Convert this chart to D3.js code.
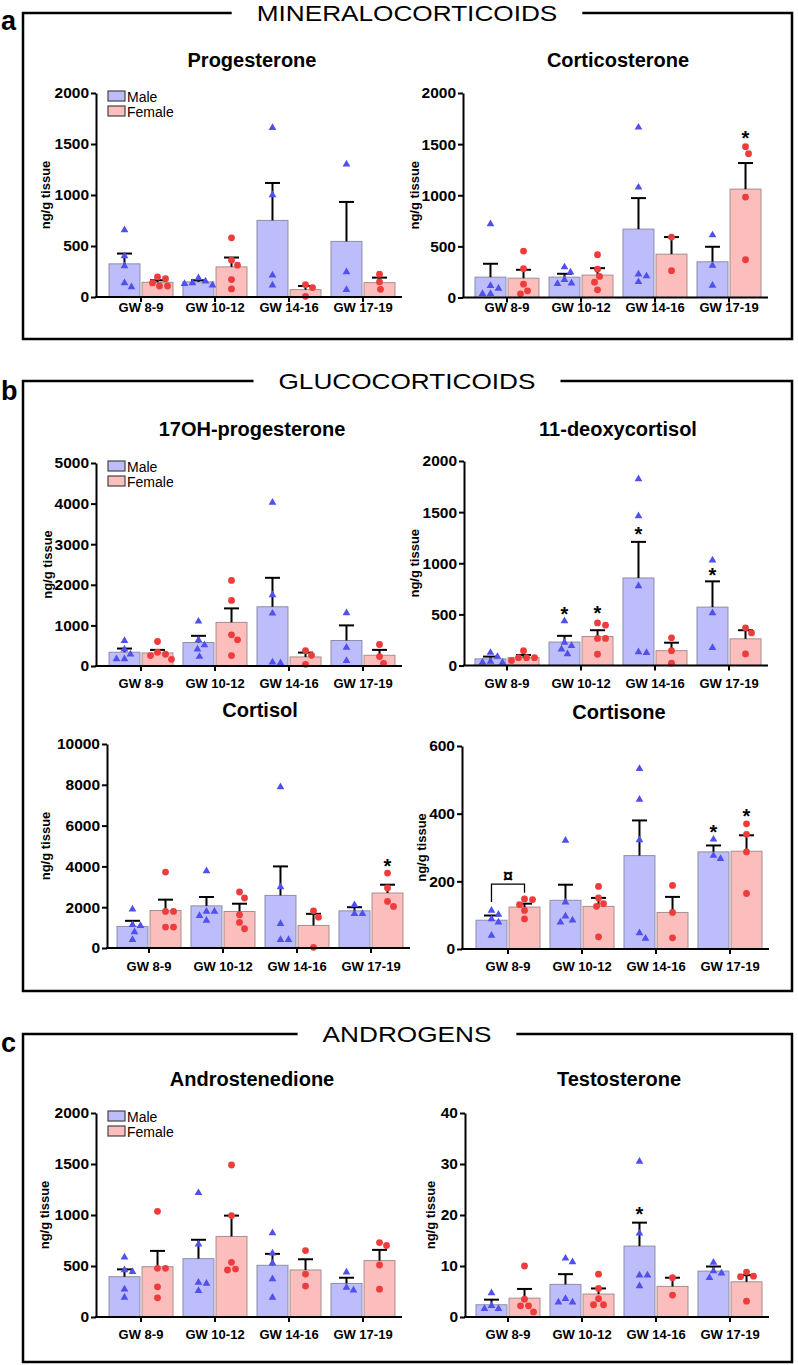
<!DOCTYPE html>
<html><head><meta charset="utf-8">
<script src="https://cdn.jsdelivr.net/npm/d3@7"></script>
<style>body{margin:0;background:#fff} svg{display:block}</style>
</head><body><svg id="chart" width="798" height="1365"></svg>
<script>
// ---------------- DATA ----------------
const groups = ["GW 8-9", "GW 10-12", "GW 14-16", "GW 17-19"];
const sexes = ["Male", "Female"];
const sectionTitles = ["MINERALOCORTICOIDS", "GLUCOCORTICOIDS", "ANDROGENS"];
const sectionLetters = ["a", "b", "c"];
const panelTitles = ["Progesterone", "Corticosterone", "17OH-progesterone", "11-deoxycortisol",
                     "Cortisol", "Cortisone", "Androstenedione", "Testosterone"];
const yLabelText = "ng/g tissue";

const ticks2000 = [0, 500, 1000, 1500, 2000];
const ticks5000 = [0, 1000, 2000, 3000, 4000, 5000];
const ticks10000 = [0, 2000, 4000, 6000, 8000, 10000];
const ticks600 = [0, 200, 400, 600];
const ticks40 = [0, 10, 20, 30, 40];

// Progesterone
const progMaleMean = [325, 148, 751, 545];
const progMaleSem = [101, 16, 367, 387];
const progFemaleMean = [144, 295, 72, 141];
const progFemaleSem = [20, 92, 36, 49];
const progMalePts = [[656, 403, 305, 138, 98], [187, 138, 115, 131, 154], [1660, 1000, 213, 115], [1302, 246, 72]];
const progFemalePts = [[197, 138, 108, 108, 180], [580, 312, 361, 171, 79], [7, 121, 92], [75, 223, 148]];

// Corticosterone
const corticoMaleMean = [199, 199, 669, 349];
const corticoMaleSem = [131, 33, 303, 147];
const corticoFemaleMean = [189, 219, 424, 1060];
const corticoFemaleSem = [82, 68, 167, 255];
const corticoMalePts = [[718, 88, 36, 36, 114], [297, 173, 248, 134, 140], [1664, 1077, 228, 209, 153], [610, 313, 117]];
const corticoFemalePts = [[454, 281, 130, 36, 65], [418, 277, 206, 150, 75], [591, 262], [1406, 1475, 982, 369]];
const corticoStars = [[3, 1, 1598]];

// 17OH-progesterone
const ohpMaleMean = [339, 578, 1459, 628];
const ohpMaleSem = [91, 165, 713, 372];
const ohpFemaleMean = [322, 1074, 223, 264];
const ohpFemaleSem = [75, 345, 107, 133];
const ohpMalePts = [[620, 289, 173, 413, 173], [1099, 640, 413, 231, 520], [4027, 1747, 1296, 90, 74], [1305, 454, 132]];
const ohpFemalePts = [[603, 339, 289, 256, 165], [2108, 1616, 768, 644, 256], [380, 41, 264], [529, 231, 66]];

// 11-deoxycortisol
const deoxyMaleMean = [65, 229, 856, 571];
const deoxyMaleSem = [22, 61, 353, 252];
const deoxyFemaleMean = [77, 284, 145, 261];
const deoxyFemaleSem = [26, 61, 78, 84];
const deoxyMalePts = [[126, 39, 29, 32, 87], [435, 194, 226, 158, 113], [1823, 1463, 777, 125, 132], [1029, 513, 174]];
const deoxyFemalePts = [[145, 77, 48, 77, 77], [394, 416, 265, 265, 110], [271, 145, 23], [368, 319, 113]];
const deoxyStars = [[1, 0, 539], [1, 1, 549], [2, 0, 1324], [3, 0, 924]];

// Cortisol
const cortisolMaleMean = [1057, 2065, 2578, 1821];
const cortisolMaleSem = [276, 435, 1422, 179];
const cortisolFemaleMean = [1837, 1789, 1106, 2695];
const cortisolFemaleSem = [533, 382, 569, 407];
const cortisolMalePts = [[1902, 1138, 1089, 780, 407], [3773, 1790, 1350, 1580, 1790], [7889, 2990, 1187, 407, 407], [2114, 1675, 1675]];
const cortisolFemalePts = [[3724, 1795, 1795, 1024, 1024], [2744, 2450, 1626, 1252, 943], [1821, 1512, 33], [3675, 2940, 2038, 2283]];
const cortisolStars = [[3, 1, 4230]];

// Cortisone
const cortisoneMaleMean = [85, 144, 276, 287];
const cortisoneMaleSem = [14, 46, 104, 19];
const cortisoneFemaleMean = [124, 126, 108, 289];
const cortisoneFemaleSem = [10, 25, 46, 47];
const cortisoneMalePts = [[114, 89, 102, 79, 40], [321, 138, 97, 79, 85], [533, 442, 322, 31, 47], [324, 267, 276]];
const cortisoneFemalePts = [[146, 148, 131, 114, 89], [185, 151, 134, 126, 36], [188, 108, 33], [370, 339, 287, 164]];
const cortisoneStars = [[3, 0, 357], [3, 1, 406]];
// bracket: group, top value, left leg end, right leg end, symbol value, symbol
const cortisoneBracket = [0, 192, 139, 166, 216, "¤"];

// Androstenedione
const androMaleMean = [395, 572, 507, 329];
const androMaleSem = [72, 185, 112, 56];
const androFemaleMean = [493, 790, 461, 553];
const androFemaleSem = [155, 204, 105, 105];
const androMalePts = [[586, 461, 444, 273, 191], [1217, 714, 339, 329, 257], [823, 625, 526, 372, 191], [438, 263, 290]];
const androFemalePts = [[1036, 477, 477, 296, 188], [1490, 994, 536, 461, 470], [651, 421, 303], [701, 730, 510, 273]];

// Testosterone
const testoMaleMean = [2.4, 6.4, 13.9, 9.0];
const testoMaleSem = [1.0, 2.0, 4.6, 0.9];
const testoFemaleMean = [3.7, 4.5, 6.0, 6.9];
const testoFemaleSem = [1.8, 1.1, 1.7, 1.3];
const testoMalePts = [[4.7, 2.2, 1.6, 1.6], [11.5, 10.8, 3.6, 2.9, 2.9], [30.5, 16.4, 8.2, 8.2, 6.1], [10.7, 9.0, 8.6, 7.7]];
const testoFemalePts = [[10, 3.5, 2.2, 2.2, 1.0], [8.4, 5.6, 3.6, 2.4, 2.4], [7.7, 4.3], [8.0, 7.9, 8.8, 3.1]];
const testoStars = [[2, 0, 21.0]];

// ---------------- TABLE FOR DRAWING ----------------
const panelData = [
  {ticks: ticks2000, mean: [progMaleMean, progFemaleMean], sem: [progMaleSem, progFemaleSem], pts: [progMalePts, progFemalePts], stars: []},
  {ticks: ticks2000, mean: [corticoMaleMean, corticoFemaleMean], sem: [corticoMaleSem, corticoFemaleSem], pts: [corticoMalePts, corticoFemalePts], stars: corticoStars},
  {ticks: ticks5000, mean: [ohpMaleMean, ohpFemaleMean], sem: [ohpMaleSem, ohpFemaleSem], pts: [ohpMalePts, ohpFemalePts], stars: []},
  {ticks: ticks2000, mean: [deoxyMaleMean, deoxyFemaleMean], sem: [deoxyMaleSem, deoxyFemaleSem], pts: [deoxyMalePts, deoxyFemalePts], stars: deoxyStars},
  {ticks: ticks10000, mean: [cortisolMaleMean, cortisolFemaleMean], sem: [cortisolMaleSem, cortisolFemaleSem], pts: [cortisolMalePts, cortisolFemalePts], stars: cortisolStars},
  {ticks: ticks600, mean: [cortisoneMaleMean, cortisoneFemaleMean], sem: [cortisoneMaleSem, cortisoneFemaleSem], pts: [cortisoneMalePts, cortisoneFemalePts], stars: cortisoneStars, bracket: cortisoneBracket},
  {ticks: ticks2000, mean: [androMaleMean, androFemaleMean], sem: [androMaleSem, androFemaleSem], pts: [androMalePts, androFemalePts], stars: []},
  {ticks: ticks40, mean: [testoMaleMean, testoFemaleMean], sem: [testoMaleSem, testoFemaleSem], pts: [testoMalePts, testoFemalePts], stars: testoStars}
];

// ---------------- LAYOUT ----------------
const layout = [
  {axisX: 96,  bandX: 96,  yTop: 93,   yBot: 297,   xlab: 312,  tbase: 67,   ylab: 45,  legend: true},
  {axisX: 463, bandX: 462, yTop: 93,   yBot: 297.5, xlab: 312,  tbase: 67,   ylab: 414},
  {axisX: 96,  bandX: 96,  yTop: 463,  yBot: 666,   xlab: 688,  tbase: 436,  ylab: 47,  legend: true},
  {axisX: 464, bandX: 462, yTop: 461,  yBot: 665.5, xlab: 688,  tbase: 436,  ylab: 414},
  {axisX: 107, bandX: 104, yTop: 744,  yBot: 948,   xlab: 971,  tbase: 717,  ylab: 45},
  {axisX: 462, bandX: 463, yTop: 746,  yBot: 949,   xlab: 971,  tbase: 719,  ylab: 421},
  {axisX: 96,  bandX: 96,  yTop: 1113, yBot: 1317,  xlab: 1339, tbase: 1086, ylab: 44,  legend: true},
  {axisX: 465, bandX: 463, yTop: 1113, yBot: 1317,  xlab: 1339, tbase: 1086, ylab: 430}
];
const sectionLayout = [
  {top: 13, bottom: 339, letterBase: 30},
  {top: 381, bottom: 991, letterBase: 400},
  {top: 1034, bottom: 1362, letterBase: 1052}
];
const FONT = "'Liberation Sans', Arial, Helvetica, sans-serif";
const barFill = ["#bdbdfb", "#fcbdbd"];
const barStroke = ["#8e8ea6", "#a88e8e"];
const ptColor = ["#5050ee", "#ee3c3c"];

const svg = d3.select("#chart").attr("font-family", FONT);

// ---------------- SECTIONS ----------------
sectionLayout.forEach((s, i) => {
  const t = svg.append("text")
    .attr("x", 407).attr("y", s.top + 8)
    .attr("text-anchor", "middle")
    .attr("font-size", 22)
    .attr("fill", "#000")
    .text(sectionTitles[i]);
  const w0 = t.node().getComputedTextLength();
  const w = w0 * 1.19;
  t.attr("textLength", w).attr("lengthAdjust", "spacingAndGlyphs");
  const gl = 407 - w / 2 - 25, gr = 407 + w / 2 + 25;
  svg.append("path")
    .attr("d", `M${gl},${s.top}H23V${s.bottom}H792V${s.top}H${gr}`)
    .attr("fill", "none").attr("stroke", "#000").attr("stroke-width", 2.5);
  svg.append("text")
    .attr("x", 1).attr("y", s.letterBase)
    .attr("font-size", 27).attr("font-weight", "bold")
    .text(sectionLetters[i]);
});

// ---------------- SWARM ----------------
function swarm(vals, cx, y, minD) {
  const pts = vals.map(v => ({v, y: y(v)})).sort((a, b) => a.y - b.y);
  const placed = [];
  pts.forEach(p => {
    for (let k = 0; k < 80; k++) {
      const off = k === 0 ? 0 : (k % 2 ? 1 : -1) * Math.ceil(k / 2);
      const px = cx + off;
      if (placed.every(q => (q.x - px) ** 2 + (q.y - p.y) ** 2 >= minD * minD)) {
        p.x = px; placed.push(p); break;
      }
    }
  });
  return placed;
}

// ---------------- PANELS ----------------
panelData.forEach((p, pi) => {
  const L = layout[pi];
  const g = svg.append("g");
  const y = d3.scaleLinear().domain([0, d3.max(p.ticks)]).range([L.yBot, L.yTop]);
  const x = d3.scaleBand().domain(groups).range([L.bandX + 8, L.bandX + 304])
    .paddingInner(0.135).paddingOuter(0.0675);
  const xs = d3.scaleBand().domain(sexes).range([0, x.bandwidth()]).paddingInner(0.0625);
  const bw = xs.bandwidth();
  const cx = (gi, si) => x(groups[gi]) + xs(sexes[si]) + bw / 2;

  // bars
  sexes.forEach((s, si) => {
    g.append("g").selectAll("rect").data(p.mean[si]).join("rect")
      .attr("x", (d, i) => x(groups[i]) + xs(s))
      .attr("y", d => y(d))
      .attr("width", bw)
      .attr("height", d => y(0) - y(d))
      .attr("fill", barFill[si])
      .attr("stroke", barStroke[si]).attr("stroke-width", 1);
  });

  // error bars (upper SEM)
  sexes.forEach((s, si) => {
    const eg = g.append("g").attr("stroke", "#000").attr("stroke-width", 2);
    p.mean[si].forEach((m, i) => {
      const c = cx(i, si);
      eg.append("line").attr("x1", c).attr("x2", c).attr("y1", y(m)).attr("y2", y(m + p.sem[si][i]));
      eg.append("line").attr("x1", c - 7.5).attr("x2", c + 7.5)
        .attr("y1", y(m + p.sem[si][i])).attr("y2", y(m + p.sem[si][i]));
    });
  });

  // points
  sexes.forEach((s, si) => {
    p.pts[si].forEach((vals, i) => {
      const sw = swarm(vals, cx(i, si), y, 7.5);
      if (si === 0) {
        g.append("g").selectAll("path").data(sw).join("path")
          .attr("d", d3.symbol(d3.symbolTriangle, 26))
          .attr("transform", d => `translate(${d.x},${d.y})`)
          .attr("fill", ptColor[0]);
      } else {
        g.append("g").selectAll("circle").data(sw).join("circle")
          .attr("cx", d => d.x).attr("cy", d => d.y).attr("r", 3.4)
          .attr("fill", ptColor[1]);
      }
    });
  });

  // stars
  g.append("g").selectAll("text").data(p.stars).join("text")
    .attr("x", d => cx(d[0], d[1]))
    .attr("y", d => y(d[2]) + 11)
    .attr("text-anchor", "middle")
    .attr("font-size", 20).attr("font-weight", "bold")
    .text("*");

  // bracket
  if (p.bracket) {
    const [gi, top, lEnd, rEnd, symV, sym] = p.bracket;
    const xl = cx(gi, 0), xr = cx(gi, 1);
    g.append("path")
      .attr("d", `M${xl},${y(lEnd)}V${y(top)}H${xr}V${y(rEnd)}`)
      .attr("fill", "none").attr("stroke", "#000").attr("stroke-width", 1.3);
    g.append("text").attr("x", (xl + xr) / 2).attr("y", y(symV))
      .attr("dy", "0.35em").attr("text-anchor", "middle")
      .attr("font-size", 18).attr("font-weight", "bold").text(sym);
  }

  // y axis
  g.append("g").attr("transform", `translate(${L.axisX},0)`)
    .call(d3.axisLeft(y).tickValues(p.ticks).tickSize(5).tickSizeOuter(0).tickPadding(2).tickFormat(d3.format("d")))
    .call(a => {
      a.select(".domain").attr("stroke", "#000").attr("stroke-width", 2);
      a.selectAll(".tick line").attr("stroke", "#000").attr("stroke-width", 2);
      a.selectAll(".tick text").attr("font-size", 15.5).attr("font-weight", "bold")
        .attr("font-family", FONT).attr("fill", "#000");
    });

  // x axis
  g.append("line").attr("x1", L.axisX - 1).attr("x2", L.bandX + 306)
    .attr("y1", y(0)).attr("y2", y(0)).attr("stroke", "#000").attr("stroke-width", 2);
  g.append("g").attr("transform", `translate(0,${y(0)})`)
    .call(d3.axisBottom(x).tickSize(5).tickSizeOuter(0))
    .call(a => {
      a.select(".domain").remove();
      a.selectAll(".tick line").attr("stroke", "#000").attr("stroke-width", 2);
      a.selectAll(".tick text").attr("y", L.xlab - y(0)).attr("dy", 0)
        .attr("font-size", 13).attr("font-weight", "bold")
        .attr("font-family", FONT).attr("fill", "#000");
    });

  // y label
  g.append("text")
    .attr("transform", `translate(${L.ylab},${(L.yTop + L.yBot) / 2}) rotate(-90)`)
    .attr("text-anchor", "middle").attr("dy", "0.35em")
    .attr("font-size", 13).attr("font-weight", "bold")
    .text(yLabelText);

  // title
  g.append("text").attr("x", L.bandX + 156).attr("y", L.tbase)
    .attr("text-anchor", "middle").attr("font-size", 20).attr("font-weight", "bold")
    .text(panelTitles[pi]);

  // legend
  if (L.legend) {
    const lg = g.append("g").attr("transform", `translate(${L.bandX + 12},${L.yTop})`);
    sexes.forEach((s, si) => {
      lg.append("rect").attr("x", 0).attr("y", -2 + si * 15).attr("width", 17).attr("height", 10)
        .attr("fill", barFill[si]).attr("stroke", "#444").attr("stroke-width", 1.2);
      lg.append("text").attr("x", 19).attr("y", 9 + si * 15)
        .attr("font-size", 14).text(s);
    });
  }
});
</script></body></html>
